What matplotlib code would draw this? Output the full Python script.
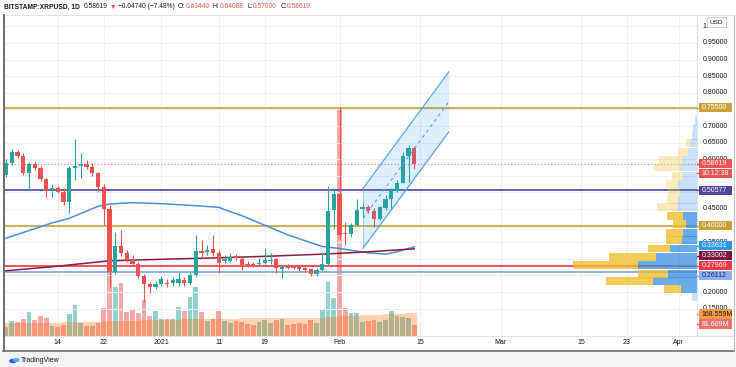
import matplotlib
matplotlib.use('Agg')
import matplotlib.pyplot as plt
import numpy as np
import datetime as dt
from matplotlib.patches import Rectangle, Circle
from matplotlib.lines import Line2D

# ---------------- data ----------------
start_date = dt.date(2020, 12, 5)

opens = [0.5524,0.5886,0.6226,0.6096,0.5593,0.5846,0.5744,0.5395,0.5072,0.5142,
         0.5021,0.4720,0.5726,0.5795,0.5855,0.5774,0.5575,0.5172,0.4491,0.2611,
         0.3386,0.3184,0.2964,0.2843,0.2491,0.2241,0.2142,0.2232,0.2280,0.2262,
         0.2271,0.2361,0.2262,0.2512,0.3244,0.3214,0.3286,0.3166,0.2934,0.2943,
         0.3084,0.2985,0.2843,0.2843,0.2834,0.2883,0.2934,0.2985,0.2693,0.2783,
         0.2783,0.2762,0.2714,0.2684,0.2542,0.2663,0.2843,0.4470,0.4952,0.3768,
         0.3738,0.4018,0.4491,0.4551,0.4449,0.4199,0.4521,0.4792,0.5051,0.5292,
         0.6096,0.6344]
closes = [0.5886,0.6226,0.6096,0.5593,0.5846,0.5744,0.5395,0.5072,0.5142,0.5021,
          0.4720,0.5726,0.5795,0.5855,0.5774,0.5575,0.5172,0.4491,0.2611,0.3386,
          0.3184,0.2964,0.2843,0.2491,0.2241,0.2160,0.2232,0.2392,0.2241,0.2361,
          0.2377,0.2271,0.2512,0.3244,0.3184,0.3274,0.3166,0.2883,0.2985,0.3063,
          0.3015,0.2813,0.2822,0.2813,0.2883,0.2964,0.2964,0.2714,0.2744,0.2732,
          0.2732,0.2693,0.2672,0.2542,0.2663,0.2843,0.4440,0.4952,0.3717,0.3738,
          0.4018,0.4470,0.4551,0.4449,0.4199,0.4551,0.4792,0.5051,0.5292,0.6096,
          0.6328,0.58619]
highs = [0.6006,0.6307,0.6277,0.6187,0.5916,0.5946,0.5795,0.5434,0.5253,0.5193,
         0.5133,0.5795,0.6600,0.6178,0.5976,0.5886,0.5614,0.5253,0.4620,0.3816,
         0.3867,0.3265,0.3114,0.2904,0.2542,0.2301,0.2331,0.2482,0.2392,0.2452,
         0.2611,0.2452,0.2602,0.3717,0.3566,0.3416,0.3717,0.3265,0.3114,0.3175,
         0.3145,0.3054,0.2934,0.2904,0.3024,0.3325,0.3175,0.3024,0.2813,0.2843,
         0.2813,0.2813,0.2783,0.2723,0.2723,0.3175,0.5193,0.5093,0.7572,0.4117,
         0.4078,0.4792,0.4720,0.4620,0.4530,0.4590,0.4922,0.5133,0.5373,0.6226,
         0.6428,0.64088]
lows = [0.5464,0.5825,0.6036,0.5524,0.5072,0.5675,0.5343,0.4861,0.4861,0.4982,
        0.4620,0.4389,0.5373,0.5434,0.5705,0.5494,0.5021,0.4018,0.2160,0.2542,
        0.3084,0.2904,0.2783,0.2422,0.1708,0.1970,0.2090,0.2181,0.2151,0.2181,
        0.2181,0.2181,0.2211,0.2482,0.3024,0.3114,0.3084,0.2572,0.2873,0.2904,
        0.2964,0.2663,0.2753,0.2753,0.2783,0.2843,0.2843,0.2572,0.2431,0.2693,
        0.2693,0.2633,0.2611,0.2491,0.2482,0.2633,0.2783,0.3889,0.3587,0.3416,
        0.3657,0.3988,0.4229,0.4380,0.3949,0.4169,0.4470,0.4470,0.5021,0.5274,
        0.5322,0.5700]
volumes_m = [69,111,106,126,176,119,148,136,74,65,
             82,163,230,99,76,76,99,210,505,366,
             391,176,193,168,267,148,186,128,124,124,
             213,182,286,366,178,108,126,188,111,94,
             114,106,89,82,106,119,94,119,124,82,
             89,99,89,119,94,198,403,280,1692,206,
             168,168,106,114,119,106,119,188,148,143,
             131,81.6]
vol_ma_m = [96,96,97,97,98,98,99,99,100,100,
            101,101,102,103,103,104,104,105,108,110,
            112,113,114,115,116,117,118,119,120,121,
            122,123,124,125,126,127,127,128,128,129,
            129,130,130,131,131,132,132,133,133,134,
            134,135,135,136,136,137,139,141,145,147,
            150,152,153,155,156,158,160,162,164,166,
            167,168.6]

# moving averages read at points (candle index, price)
ma_blue_idx = [0, 4, 8, 11, 16, 18, 22, 27, 31, 34, 37, 39, 41, 45, 49, 55, 58, 63, 66, 68, 71]
ma_blue_val = [0.362, 0.385, 0.408, 0.422, 0.458, 0.465, 0.469, 0.466, 0.462, 0.459, 0.455,
               0.442, 0.430, 0.401, 0.372, 0.337, 0.331, 0.318, 0.314, 0.321, 0.3363]
ma_red_idx = [0, 8, 18, 28, 37, 46, 55, 63, 71]
ma_red_val = [0.264, 0.276, 0.294, 0.299, 0.303, 0.308, 0.314, 0.321, 0.3300]

# horizontal levels
level_prices = [0.755, 0.50577, 0.40, 0.27969, 0.26112]
level_colors = ['#c9a23b', '#4f4599', '#c9a23b', '#f23645', '#7ea6e6']
last_price = 0.58619

# channel (candle index, price)
chan_idx = [62.1, 77.0]
chan_upper = [0.512, 0.863]
chan_lower = [0.332, 0.682]

# visible range volume profile
vp_price = [0.186,0.209,0.232,0.255,0.280,0.306,0.331,0.356,0.379,0.404,0.429,
            0.455,0.477,0.500,0.525,0.550,0.575,0.598,0.623,0.648,0.670,0.693,0.718]
vp_blue = [5.3,16.3,44.3,28.7,58.7,41,27,15.3,13.7,11,14.3,
           20.3,18.7,17,18.7,13.7,17,15.3,8.7,7,5.3,3.7,2]
vp_yellow = [0,16.7,46.7,30,65,47,21.7,15.7,17.3,12.7,16,
             20,11.7,11.7,12.3,11.7,25.7,22.3,10,4,0,0,0]
vp_value_area = (0.20, 0.44)

date_ticks = [dt.date(2020,12,14), dt.date(2020,12,22), dt.date(2021,1,1), dt.date(2021,1,11),
              dt.date(2021,1,19), dt.date(2021,2,1), dt.date(2021,2,15), dt.date(2021,3,1),
              dt.date(2021,3,15), dt.date(2021,3,23), dt.date(2021,4,1)]
date_labels = ['14', '22', '2021', '11', '19', 'Feb', '15', 'Mar', '15', '23', 'Apr']
price_ticks = [0.15,0.20,0.25,0.30,0.35,0.40,0.45,0.50,0.55,0.60,0.65,0.70,0.75,0.80,0.85,0.90,0.95,1.00]
hidden_tick_labels = [0.25, 0.30, 0.40, 0.50, 0.55, 0.75]

# ---------------- layout ----------------
W, H = 736, 367
FONT = ['Liberation Sans', 'DejaVu Sans']
plt.rcParams['font.family'] = FONT
fig = plt.figure(figsize=(W/100, H/100), dpi=100)
fig.patch.set_facecolor('white')

L, R, T, B = 4, 697, 15, 336
rect = [L/W, 1-B/H, (R-L)/W, (B-T)/H]
def fx(px): return px/W
def fy(py): return 1 - py/H

PXDAY = 5.75
X0 = 6
xlim = ((L-X0)/PXDAY, (R-X0)/PXDAY)
ylim = (0.2 - (B-292)/332, 0.2 + (292-T)/332)

axv = fig.add_axes(rect)
ax = fig.add_axes(rect, sharex=axv)
axp = fig.add_axes(rect)
ax.set_axis_off()
axp.set_axis_off()
axv.set_xlim(*xlim)
ax.set_ylim(*ylim)
axp.set_ylim(*ylim)
axp.set_xlim(R-L, 0)
axp.patch.set_alpha(0)
ax.patch.set_alpha(0)

for s in axv.spines.values():
    s.set_visible(False)
axv.set_xticks([])
axv.set_yticks([])
idx = np.arange(len(opens))
tick_idx = [(d - start_date).days for d in date_ticks]
for ti in tick_idx:
    axv.axvline(ti, color='#eef0f5', lw=0.8, zorder=0)
axv.set_ylim(0, (B-T)*7.42)
for p in price_ticks:
    ax.axhline(p, color='#eef0f5', lw=0.8, zorder=0)

# volume
o = np.array(opens); c = np.array(closes); h = np.array(highs); lo = np.array(lows)
up = c >= o
vcol = np.where(up, '#26a69a', '#ef5350')
axv.bar(idx, volumes_m, width=0.8, color=vcol, alpha=0.5, linewidth=0, zorder=2)
axv.bar(idx, vol_ma_m, width=1.0, color='#ff6a00', alpha=0.30, linewidth=0, zorder=3)

# levels
for lp, lc in zip(level_prices, level_colors):
    ax.axhline(lp, color=lc, lw=1.2, zorder=2)
ax.axhline(last_price, color='#ef5350', lw=0.8, ls=(0, (1, 2)), alpha=0.8, zorder=2)

# moving averages
ax.plot(ma_blue_idx, ma_blue_val, color='#4a8fdb', lw=1.1, zorder=3)
ax.plot(ma_red_idx, ma_red_val, color='#8b1a44', lw=1.1, zorder=3)

# candles
ccol = np.where(up, '#26a69a', '#ef5350')
ax.vlines(idx, lo, h, colors=ccol, lw=0.8, zorder=4)
body_h = np.maximum(np.abs(c - o), 0.002)
ax.bar(idx, body_h, bottom=np.minimum(o, c), width=0.7, color=ccol, linewidth=0, zorder=5)

# channel
cu = np.array(chan_upper); cl = np.array(chan_lower); ci = np.array(chan_idx)
ax.fill_between(ci, cl, cu, color='#2196f3', alpha=0.15, lw=0, zorder=6)
ax.plot(ci, cu, color='#5ea2e6', lw=0.9, zorder=6)
ax.plot(ci, cl, color='#5ea2e6', lw=0.9, zorder=6)
ax.plot([ci[0], ci[0]], [cl[0], cu[0]], color='#5ea2e6', lw=0.6, alpha=0.6, zorder=6)
ax.plot(ci, (cu+cl)/2, color='#5ea2e6', lw=0.8, ls=(0, (3, 3)), zorder=6)

# volume profile
vb = np.array(vp_blue); vyel = np.array(vp_yellow); vpp = np.array(vp_price)
inva = (vpp >= vp_value_area[0]) & (vpp <= vp_value_area[1])
for p_, b_, y_, va in zip(vpp, vb, vyel, inva):
    a_b = 0.72 if va else 0.25
    a_y = 0.78 if va else 0.30
    axp.barh(p_, b_, left=0, height=0.0240, color='#2f8ae0', alpha=a_b, lw=0, zorder=7)
    if y_ > 0:
        axp.barh(p_, y_, left=b_, height=0.0240, color='#f0bd2a', alpha=a_y, lw=0, zorder=7)

# frame lines
fig.add_artist(Line2D([fx(R), fx(R)], [fy(T), fy(B)], color='#e0e3eb', lw=0.8))
fig.add_artist(Line2D([fx(L), fx(734)], [fy(B), fy(B)], color='#e0e3eb', lw=0.8))
fig.add_artist(Line2D([fx(L), fx(734)], [fy(T), fy(T)], color='#e0e3eb', lw=0.8))
fig.add_artist(Line2D([fx(3.5), fx(3.5)], [fy(T), fy(351)], color='#6b6b6b', lw=1.4))
fig.add_artist(Line2D([fx(3), fx(734)], [fy(351), fy(351)], color='#6b6b6b', lw=1.2))
fig.add_artist(Line2D([fx(734), fx(734)], [fy(T), fy(351)], color='#bdbdbd', lw=0.8))
fig.add_artist(Rectangle((0, 0), 1, fy(352), transform=fig.transFigure, color='#f5f5f5', zorder=0))

FS = 5.0
for p in price_ticks:
    if any(abs(p - hp) < 1e-9 for hp in hidden_tick_labels):
        continue
    ypx = 292 - (p - 0.2)*332
    fig.text(fx(702.5), fy(ypx), f'{p:.5f}', fontsize=FS, color='#131722', va='center', ha='left', zorder=3)

fig.patches.append(Rectangle((fx(707), fy(27)), fx(19), 10/H, transform=fig.transFigure,
                             facecolor='white', edgecolor='#c8cbd3', lw=0.6, zorder=5))
fig.text(fx(716.5), fy(22), 'USD', fontsize=4.6, color='#131722', ha='center', va='center', zorder=6)

def ypx_of(p):
    return 292 - (p - 0.2)*332
axis_labels = [
    (ypx_of(0.755), '0.75500', '#c9a23b', 'white'),
    (ypx_of(last_price), '0.58619', '#ef5350', 'white'),
    (ypx_of(last_price)+9.5, '10:12:38', '#ef5350', 'white'),
    (ypx_of(0.50577), '0.50577', '#4f4599', 'white'),
    (ypx_of(0.40), '0.40000', '#c9a23b', 'white'),
    (245.5, '0.33631', '#2f96f0', 'white'),
    (255.5, '0.33002', '#7d1340', 'white'),
    (265.5, '0.27969', '#f23645', 'white'),
    (275.5, '0.26112', '#8db0ee', '#16236b'),
    (314, '168.559M', '#f59b4c', '#2b1a00'),
    (324, '81.609M', '#ef6f6c', 'white'),
]
for bpx, txt, bg, fg in axis_labels:
    fig.patches.append(Rectangle((fx(699), fy(bpx+4.6)), fx(33), 9.2/H, transform=fig.transFigure,
                                 facecolor=bg, edgecolor='none', zorder=7))
    fig.add_artist(Line2D([fx(697), fx(700)], [fy(bpx), fy(bpx)], color=bg, lw=1.0, zorder=7))
    fig.text(fx(701.5), fy(bpx), txt, fontsize=FS, color=fg, va='center', ha='left', zorder=8)

for ti, lab in zip(tick_idx, date_labels):
    xp = X0 + ti*PXDAY
    fig.text(fx(xp), fy(343), lab, fontsize=FS, color='#131722', ha='center', va='center')

# title pieces laid out one after another (text, colour, weight, gap after in px)
pieces = [('BITSTAMP:XRPUSD, 1D', '#131722', 'bold', 3.5),
          ('0.58619', '#131722', 'normal', 2.0),
          ('\u25bc', '#ef5350', 'normal', 2.0),
          ('\u22120.04740 (\u22127.48%)', '#131722', 'normal', 3.5),
          ('O:', '#131722', 'normal', 0.3),
          ('0.63440', '#ef5350', 'normal', 3.5),
          ('H:', '#131722', 'normal', 0.3),
          ('0.64088', '#ef5350', 'normal', 3.5),
          ('L:', '#131722', 'normal', 0.3),
          ('0.57000', '#ef5350', 'normal', 3.5),
          ('C:', '#131722', 'normal', 0.3),
          ('0.58619', '#ef5350', 'normal', 0)]
fig.canvas.draw()
rend = fig.canvas.get_renderer()
xcur = 4.0
for txt, col, wgt, gap in pieces:
    t = fig.text(fx(xcur), fy(7), txt, fontsize=4.8, color=col, fontweight=wgt,
                 ha='left', va='center', family=FONT)
    bb = t.get_window_extent(renderer=rend)
    xcur += bb.width + gap

fig.patches.append(Circle((fx(13), fy(361)), 3.2/W, transform=fig.transFigure, color='#2962ff', zorder=3))
fig.patches.append(Circle((fx(16.5), fy(360)), 2.6/W, transform=fig.transFigure, color='#5fa8f5', zorder=3))
fig.text(fx(21), fy(361), 'TradingView', fontsize=5.0, color='#131722', ha='left', va='center')

fig.savefig('out.png', dpi=100, facecolor='white')
